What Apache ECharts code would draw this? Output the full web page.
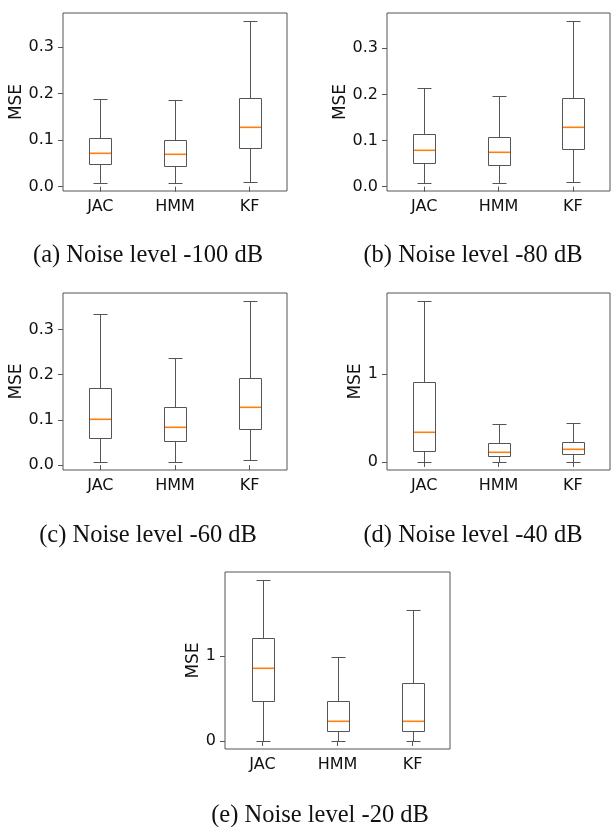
<!DOCTYPE html>
<html lang="en">
<head>
<meta charset="UTF-8">
<title>MSE boxplots</title>
<style>
  * { padding: 0; margin: 0; }
  body { background: #fff; }
  #chart { width: 611px; height: 827px; }
</style>
</head>
<body>
<div id="chart"></div>
<script src="https://cdn.jsdelivr.net/npm/echarts@6/dist/echarts.min.js"></script>
<script>
// [low whisker, Q1, median, Q3, high whisker] per method
var categories = ['JAC', 'HMM', 'KF'];
var noise100 = [[0.008, 0.048, 0.072, 0.105, 0.189], [0.008, 0.044, 0.070, 0.100, 0.186], [0.011, 0.082, 0.128, 0.191, 0.356]];
var noise80 = [[0.008, 0.051, 0.079, 0.115, 0.213], [0.008, 0.047, 0.074, 0.108, 0.197], [0.011, 0.082, 0.130, 0.193, 0.359]];
var noise60 = [[0.007, 0.060, 0.103, 0.170, 0.334], [0.007, 0.053, 0.085, 0.128, 0.238], [0.012, 0.080, 0.128, 0.193, 0.363]];
var noise40 = [[0.0, 0.120, 0.345, 0.913, 1.826], [0.0, 0.068, 0.113, 0.210, 0.428], [0.0, 0.090, 0.147, 0.221, 0.440]];
var noise20 = [[0.0, 0.471, 0.853, 1.207, 1.892], [0.0, 0.112, 0.234, 0.471, 0.993], [0.0, 0.112, 0.234, 0.685, 1.542]];
var smallTicks = [0, 0.1, 0.2, 0.3];
var bigTicks = [0, 1];
var captions = ['(a) Noise level -100 dB', '(b) Noise level -80 dB', '(c) Noise level -60 dB', '(d) Noise level -40 dB', '(e) Noise level -20 dB'];

var panels = [
  { data: noise100, ticks: smallTicks, digits: 1, grid: { left: 63, top: 13, width: 224, height: 178 }, gap: 34, cap: [148, 256] },
  { data: noise80, ticks: smallTicks, digits: 1, grid: { left: 387, top: 13, width: 223, height: 178 }, gap: 34, cap: [473, 256] },
  { data: noise60, ticks: smallTicks, digits: 1, grid: { left: 63, top: 293, width: 224, height: 177 }, gap: 34, cap: [148, 536] },
  { data: noise40, ticks: bigTicks, digits: 0, grid: { left: 387, top: 293, width: 223, height: 177 }, gap: 13, cap: [473, 536] },
  { data: noise20, ticks: bigTicks, digits: 0, grid: { left: 225, top: 572, width: 225, height: 177 }, gap: 15, cap: [320, 816] }
];

var lineColor = '#555';
var medianColor = '#ff7f0e';

function px(v) { return Math.round(v) + 0.5; }

function renderBox(params, api) {
  var x = api.value(0);
  var lo = api.coord([x, api.value(1)]);
  var q1 = api.coord([x, api.value(2)]);
  var md = api.coord([x, api.value(3)]);
  var q3 = api.coord([x, api.value(4)]);
  var hi = api.coord([x, api.value(5)]);
  var cx = px(lo[0]);
  var bw = 22, cw = 14;
  function seg(x1, y1, x2, y2) {
    return {
      type: 'line',
      shape: { x1: x1, y1: y1, x2: x2, y2: y2 },
      style: { stroke: lineColor, lineWidth: 1 }
    };
  }
  return {
    type: 'group',
    children: [
      {
        type: 'rect',
        shape: { x: cx - bw / 2, y: px(q3[1]), width: bw, height: Math.round(q1[1]) - Math.round(q3[1]) },
        style: { stroke: lineColor, lineWidth: 1, fill: 'rgba(255,255,255,0)' }
      },
      seg(cx, px(q3[1]), cx, px(hi[1])),
      seg(cx, px(q1[1]), cx, px(lo[1])),
      seg(cx - cw / 2, px(hi[1]), cx + cw / 2, px(hi[1])),
      seg(cx - cw / 2, px(lo[1]), cx + cw / 2, px(lo[1])),
      {
        type: 'rect', z2: 10,
        shape: { x: cx - bw / 2 + 0.5, y: Math.round(md[1]) - 0.5, width: bw - 1, height: 1.6 },
        style: { fill: medianColor, stroke: null }
      }
    ]
  };
}

var grids = [], xAxes = [], yAxes = [], series = [], graphics = [];
panels.forEach(function (p, i) {
  var lows = p.data.map(function (d) { return d[0]; });
  var highs = p.data.map(function (d) { return d[4]; });
  var lo = Math.min.apply(null, lows), hi = Math.max.apply(null, highs);
  var pad = (hi - lo) * 0.05;
  grids.push(Object.assign({ show: true, borderColor: lineColor, borderWidth: 1, backgroundColor: 'transparent' }, p.grid));
  xAxes.push({
    type: 'category', gridIndex: i, data: categories, boundaryGap: true,
    axisLine: { show: false },
    axisTick: { show: true, alignWithLabel: true, length: 5, lineStyle: { color: lineColor } },
    axisLabel: { color: '#111', fontFamily: 'DejaVu Sans', fontSize: 16, margin: 8 }
  });
  yAxes.push({
    type: 'value', gridIndex: i, min: lo - pad, max: hi + pad,
    name: 'MSE', nameLocation: 'middle', nameRotate: 90, nameGap: p.gap,
    nameTextStyle: { color: '#111', fontFamily: 'DejaVu Sans', fontSize: 17 },
    axisLine: { show: false },
    splitLine: { show: false },
    axisTick: { show: true, length: 5, customValues: p.ticks, lineStyle: { color: lineColor } },
    axisLabel: {
      color: '#111', fontFamily: 'DejaVu Sans', fontSize: 16, margin: 9,
      customValues: p.ticks,
      formatter: function (v) { return Number(v).toFixed(p.digits); }
    }
  });
  series.push({
    type: 'custom', xAxisIndex: i, yAxisIndex: i,
    renderItem: renderBox,
    encode: { x: 0, y: [1, 2, 3, 4, 5] },
    data: p.data.map(function (d, k) { return [k].concat(d); }),
    silent: true
  });
  graphics.push({
    type: 'text', x: p.cap[0], y: p.cap[1],
    style: {
      text: captions[i], fill: '#111', font: '24.5px "Liberation Serif"',
      textAlign: 'center', textVerticalAlign: 'middle'
    }
  });
});

var myChart = echarts.init(document.getElementById('chart'));
myChart.setOption({
  animation: false,
  backgroundColor: '#fff',
  grid: grids,
  xAxis: xAxes,
  yAxis: yAxes,
  series: series,
  graphic: graphics
});
</script>
</body>
</html>
